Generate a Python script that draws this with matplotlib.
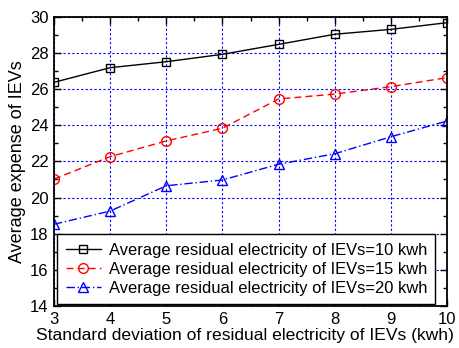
import matplotlib
matplotlib.use("Agg")
import matplotlib.pyplot as plt
from matplotlib.ticker import MultipleLocator

plt.rcParams['font.family'] = ['Liberation Sans', 'DejaVu Sans']

x = [3, 4, 5, 6, 7, 8, 9, 10]
y10 = [26.37, 27.18, 27.51, 27.92, 28.47, 29.03, 29.30, 29.67]
y15 = [21.02, 22.26, 23.13, 23.83, 25.45, 25.72, 26.13, 26.63]
y20 = [18.52, 19.25, 20.65, 20.97, 21.84, 22.42, 23.36, 24.23]
labels = ["Average residual electricity of IEVs=10 kwh",
          "Average residual electricity of IEVs=15 kwh",
          "Average residual electricity of IEVs=20 kwh"]

fig = plt.figure(figsize=(4.59, 3.48), dpi=100)
ax = fig.add_axes([0.1176, 0.1207, 0.974 - 0.1176, 0.952 - 0.1207])

ax.plot(x, y10, color='black', ls='-', lw=1, marker='s', ms=6.2, mfc='none', mec='black', mew=1, label=labels[0])
ax.plot(x, y15, color='red', ls=(0, (5, 3)), lw=1, marker='o', ms=7, mfc='none', mec='red', mew=1, label=labels[1])
ax.plot(x, y20, color='blue', ls=(0, (6, 2, 1, 2)), lw=1, marker='^', ms=7.5, mfc='none', mec='blue', mew=1, label=labels[2])

ax.set_xlim(3, 10)
ax.set_ylim(14, 30)
ax.xaxis.set_major_locator(MultipleLocator(1))
ax.xaxis.set_minor_locator(MultipleLocator(0.5))
ax.yaxis.set_major_locator(MultipleLocator(2))
ax.yaxis.set_minor_locator(MultipleLocator(1))
ax.tick_params(which='both', direction='in', top=True, right=True, labelsize=12)
ax.tick_params(which='major', length=5, width=1, pad=4)
ax.tick_params(which='minor', length=3, width=1)
ax.grid(True, which='major', color='blue', ls=(0, (2, 2)), lw=0.8)
for s in ax.spines.values():
    s.set_linewidth(1.3)

ax.set_xlabel("Standard deviation of residual electricity of IEVs (kwh)", fontsize=12.6, labelpad=0)
ax.xaxis.set_label_coords(0.486, -0.075)
ax.set_ylabel("Average expense of IEVs", fontsize=13, labelpad=3)

leg = ax.legend(loc='upper left', bbox_to_anchor=(0.0084, 0.248), fontsize=11.9, frameon=True,
                fancybox=False, edgecolor='black', framealpha=1, handlelength=2.15,
                borderpad=0.5, labelspacing=0.25, handletextpad=0.45, borderaxespad=0)
leg.get_frame().set_linewidth(1)

fig.savefig("out.png", dpi=100)
